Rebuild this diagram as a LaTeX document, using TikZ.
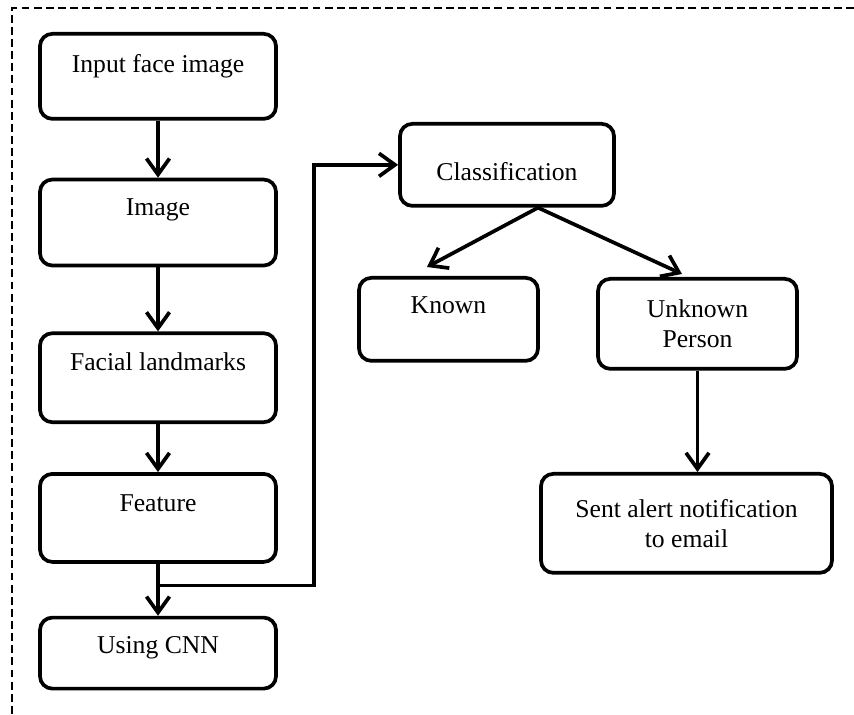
\documentclass[tikz,border=0pt]{standalone}
\usepackage{fontspec}
\setmainfont{Liberation Serif}
\usetikzlibrary{arrows.meta, positioning, calc}
\tikzset{
  box/.style={draw, line width=2.1pt, rounded corners=7pt, minimum width=#1, align=center,
    font=\fontsize{14.6}{17}\selectfont},
  box/.default=4.72cm,
  txt/.style 2 args={text height=#1, text depth=#2, inner ysep=0pt},
  arr/.style={-{Straight Barb[length=3.2mm, width=4.6mm]}, line width=2.1pt},
  frame/.style={line width=1.5pt, dash pattern=on 4.5pt off 2.4pt},
}
\begin{document}
\begin{tikzpicture}
  \useasboundingbox (0,0) rectangle (17.08,-14.3);
  \draw[frame] (17.08,-0.16) -- (0.24,-0.16) -- (0.24,-14.3);

  % left column
  \node[box, txt={0.78cm}{0.92cm}, anchor=north] (in) at (3.16,-0.64) {Input face image};
  \node[box, txt={0.72cm}{1.0cm}, below=1.14cm of in] (img) {Image};
  \node[box, txt={0.74cm}{1.04cm}, below=1.28cm of img] (lmk) {Facial landmarks};
  \node[box, txt={0.76cm}{1.0cm}, below=0.96cm of lmk] (feat) {Feature};
  \node[box, txt={0.72cm}{0.7cm}, below=1.04cm of feat] (cnn) {Using CNN};

  % right part
  \node[box=4.28cm, txt={1.14cm}{0.5cm}, anchor=north] (cls) at (10.14,-2.44) {Classification};
  \node[box=3.58cm, txt={0.72cm}{0.94cm}, anchor=north] (known) at (8.97,-5.52) {Known};
  \node[box=3.98cm, minimum height=1.8cm, anchor=north] (unk) at (13.95,-5.54) {Unknown\\Person};
  \node[box=5.82cm, minimum height=1.98cm, anchor=north] (alert) at (13.73,-9.44)
    {Sent alert notification\\to email};

  \foreach \a/\b in {in/img, img/lmk, lmk/feat, feat/cnn, unk/alert}
    \draw[arr] (\a.south) -- (\a.south |- \b.north);

  \coordinate (split) at ($(feat.south)!0.42!(cnn.north)$);
  \draw[arr] (split) -- ++(3.12,0) |- (cls.west);

  \coordinate (fork) at ($(cls.south)+(0.62,0)$);
  \draw[arr] (fork) -- ($(known.north)+(-0.43,0.18)$);
  \draw[arr] (fork) -- ($(unk.north)+(-0.31,0.06)$);
\end{tikzpicture}
\end{document}
